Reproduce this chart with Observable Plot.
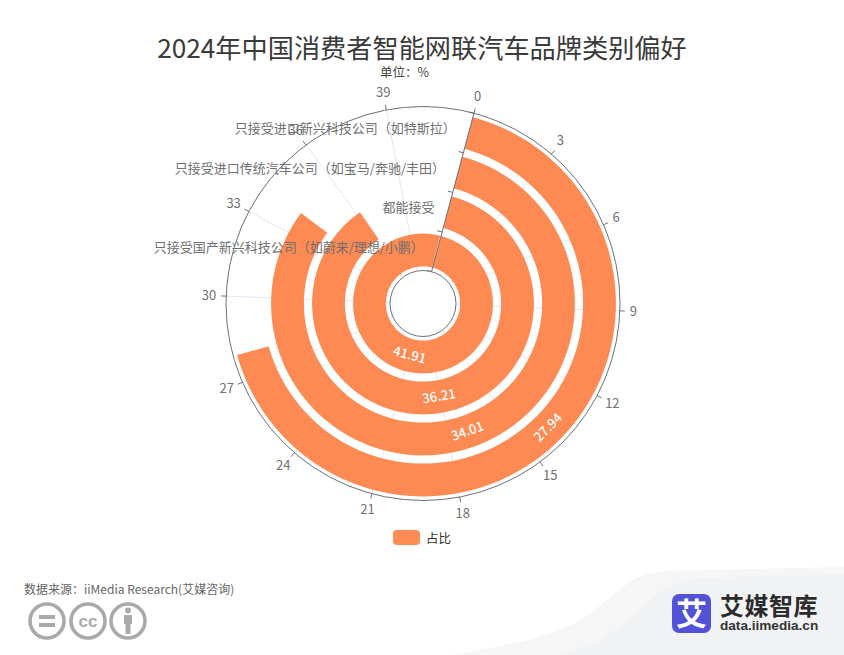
<!DOCTYPE html>
<html lang="zh">
<head>
<meta charset="utf-8">
<script src="https://cdn.jsdelivr.net/npm/d3@7"></script>
<script src="https://cdn.jsdelivr.net/npm/@observablehq/plot@0.6"></script>
<style>
  html, body { margin: 0; background: #fff; }
  #page { position: relative; width: 844px; height: 655px; overflow: hidden; font-family: "Noto Sans CJK SC", "Noto Sans", sans-serif; }
  #page > * { position: absolute; }
  #page > svg { left: 0; top: 0; }
  #title { left: 0; width: 844px; top: 32px; text-align: center; font-size: 26.2px; line-height: 30px; color: #3a3a3a; }
  #unit { left: 380px; top: 65px; font-size: 12.5px; line-height: 14px; color: #444; }
  #swatch { left: 393px; top: 530px; width: 27px; height: 15px; border-radius: 4px; background: #ff8c56; }
  #legend { left: 426px; top: 529px; font-size: 12.5px; line-height: 17px; color: #333; }
  #source { left: 24px; top: 581px; font-size: 12px; line-height: 16px; color: #666; }
  #brand { left: 720px; top: 593px; font-size: 24px; line-height: 24px; font-weight: 700; color: #2b2b2b; letter-spacing: .5px; white-space: nowrap; }
  #site { left: 720px; top: 618px; font-size: 13.6px; line-height: 16px; font-weight: 700; color: #333; font-family: "Liberation Sans", sans-serif; }
</style>
</head>
<body>
<div id="page">
  <svg id="backdrop" width="844" height="655">
    <path d="M452 655C510 645 565 635 592 612C620 590 635 572 665 571L844 567V655Z" fill="#f6f6f7"/>
    <path d="M560 655C600 645 625 625 650 600C665 585 680 580 700 578L844 574V655Z" fill="#f1f2f3"/>
    <g fill="none" stroke="#a9a9a9" stroke-width="3.6">
      <circle cx="47" cy="621" r="17"/><circle cx="88" cy="621" r="17"/><circle cx="128" cy="621" r="17"/>
    </g>
    <g fill="#a9a9a9">
      <rect x="39" y="615" width="16" height="4"/><rect x="39" y="623" width="16" height="4"/>
      <circle cx="128" cy="610.5" r="3"/><rect x="124" y="615" width="8" height="9"/><rect x="125.5" y="624" width="5" height="10"/>
    </g>
    <text x="88" y="627" text-anchor="middle" font-size="17" font-weight="700" fill="#a9a9a9" font-family="Liberation Sans">cc</text>
    <rect x="672" y="594" width="39" height="39" rx="7" fill="#5152d8"/>
    <text x="691.5" y="625" text-anchor="middle" font-size="31" font-weight="700" fill="#fff">艾</text>
  </svg>
  <div id="title">2024年中国消费者智能网联汽车品牌类别偏好</div>
  <div id="unit">单位：%</div>
  <div id="swatch"></div>
  <div id="legend">占比</div>
  <div id="source">数据来源：iiMedia Research(艾媒咨询)</div>
  <div id="brand">艾媒智库</div>
  <div id="site">data.iimedia.cn</div>
</div>
<script>
// inner ring first
const brands = [
  "只接受国产新兴科技公司（如蔚来/理想/小鹏）",
  "都能接受",
  "只接受进口传统汽车公司（如宝马/奔驰/丰田）",
  "只接受进口新兴科技公司（如特斯拉）"
];
const shares = [41.91, 36.21, 34.01, 27.94];
const angleTicks = [0, 3, 6, 9, 12, 15, 18, 21, 24, 27, 30, 33, 36, 39];

const ORANGE = "#fd8a53";
const AXIS = "#6E7079";
const SPLIT = "#E0E6F1";
const LABEL = "#707070";
const FONT = '"Noto Sans CJK SC", "Noto Sans", sans-serif';

// ---------- Polar helpers ----------
const angle = d3.scaleLinear([0, 42], [Math.PI / 12, Math.PI / 12 + 2 * Math.PI]);
const radius = d3.scaleBand(brands, [33, 197]);
const bw = radius.bandwidth();
const [rIn, rOut] = radius.range();
const polar = (v, r) => ({ x: r * Math.sin(angle(v)), y: r * Math.cos(angle(v)) });

// one closed ring segment per brand, walked out along the top edge and back along the bottom
const barPoints = brands.flatMap((b, i) => {
  const steps = Math.ceil(shares[i] * 4);
  const along = d3.range(steps + 1).map(k => shares[i] * k / steps);
  const r0 = radius(b) + bw * 0.1, r1 = radius(b) + bw * 0.9;
  return [
    ...along.map(v => ({ brand: b, ...polar(v, r1) })),
    ...along.reverse().map(v => ({ brand: b, ...polar(v, r0) }))
  ];
});

const splitLines = angleTicks.map(t => {
  const a = polar(t, rIn), b = polar(t, rOut);
  return { x1: a.x, y1: a.y, x2: b.x, y2: b.y };
});
const tickMarks = angleTicks.map(t => {
  const a = polar(t, rOut), b = polar(t, rOut + 5);
  return { x1: a.x, y1: a.y, x2: b.x, y2: b.y };
});
// labels sit outside the ring, pushed out by their own half size
const tickLabels = angleTicks.map(t => {
  const p = polar(t, rOut + 10);
  const halfW = String(t).length * 3.6;
  return { t, x: p.x + Math.sin(angle(t)) * halfW, y: p.y + Math.cos(angle(t)) * 7 };
});

const axisStart = polar(0, rIn), axisEnd = polar(0, rOut);
const radialTicks = d3.range(5).map(i => {
  const p = polar(0, rIn + i * bw);
  const nx = -Math.cos(angle(0)) * 5, ny = Math.sin(angle(0)) * 5;
  return { x1: p.x, y1: p.y, x2: p.x + nx, y2: p.y + ny };
});
const brandLabels = brands.map(b => ({ b, ...polar(0, radius(b) + bw / 2) }));
const valueLabels = brands.map((b, i) => {
  const deg = angle(shares[i] / 2) * 180 / Math.PI;
  return {
    v: shares[i].toFixed(2),
    rot: deg > 90 && deg < 270 ? deg - 180 : deg,
    ...polar(shares[i] / 2, radius(b) + bw / 2)
  };
});

// ---------- Plot ----------
const chart = Plot.plot({
  width: 844, height: 655,
  margin: 0,
  style: { background: "transparent", fontFamily: FONT },
  x: { domain: [-422.5, 421.5], axis: null },
  y: { domain: [-352, 303], axis: null },
  marks: [
    Plot.link(splitLines, { x1: "x1", y1: "y1", x2: "x2", y2: "y2", stroke: SPLIT, strokeWidth: 1 }),
    Plot.line(barPoints, { x: "x", y: "y", z: "brand", fill: ORANGE, stroke: "none" }),
    Plot.dot([{ x: 0, y: 0 }], { x: "x", y: "y", r: rOut, fill: "none", stroke: AXIS, strokeWidth: 1 }),
    Plot.dot([{ x: 0, y: 0 }], { x: "x", y: "y", r: rIn, fill: "none", stroke: AXIS, strokeWidth: 1 }),
    Plot.link(tickMarks, { x1: "x1", y1: "y1", x2: "x2", y2: "y2", stroke: AXIS, strokeWidth: 1 }),
    Plot.link([{ a: axisStart, b: axisEnd }], {
      x1: d => d.a.x, y1: d => d.a.y, x2: d => d.b.x, y2: d => d.b.y, stroke: AXIS, strokeWidth: 1
    }),
    Plot.link(radialTicks, { x1: "x1", y1: "y1", x2: "x2", y2: "y2", stroke: AXIS, strokeWidth: 1 }),
    Plot.text(tickLabels, { x: "x", y: "y", text: d => String(d.t), fontSize: 13, fill: LABEL }),
    Plot.text(brandLabels, {
      x: "x", y: "y", text: "b", textAnchor: "end", dx: -13, dy: -4,
      fontSize: 13, fill: LABEL
    }),
    Plot.text(valueLabels, {
      x: "x", y: "y", text: "v", rotate: "rot",
      fontSize: 13, fontWeight: 500, fill: "#fff"
    })
  ]
});
document.getElementById("backdrop").after(chart);
</script>
</body>
</html>
